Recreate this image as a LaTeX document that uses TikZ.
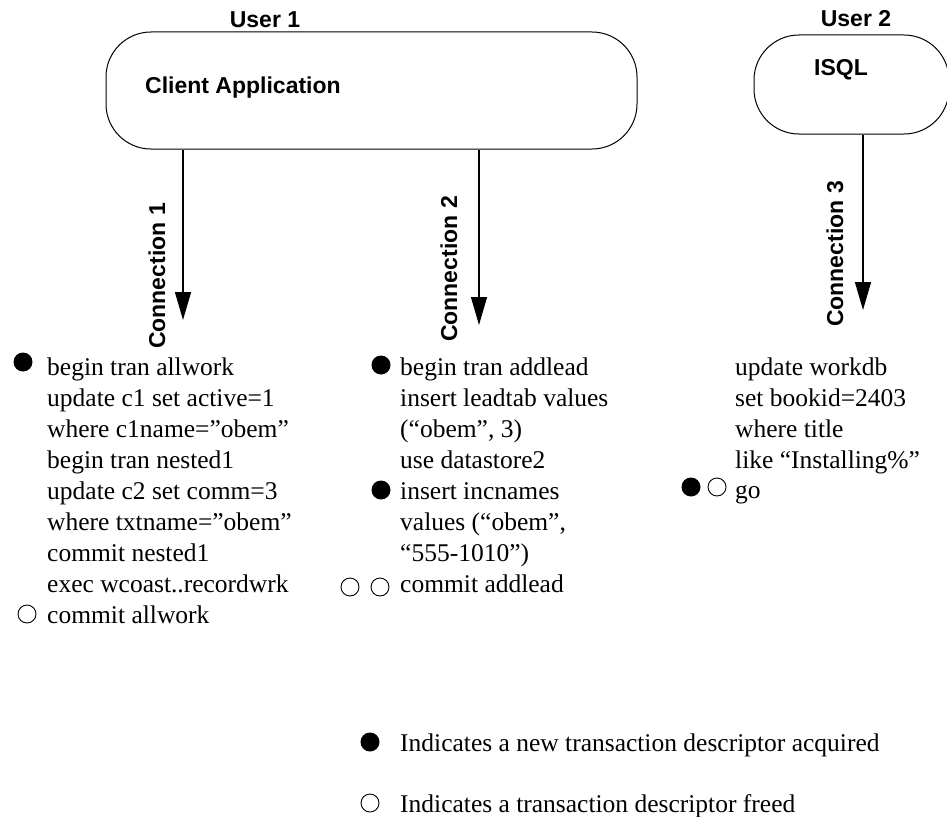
\documentclass[tikz,border=0pt]{standalone}
\usepackage{fontspec}
\setmainfont{Liberation Serif}
\newfontfamily\hv{Liberation Sans}
\usetikzlibrary{arrows.meta}
\begin{document}
\begin{tikzpicture}[x=1pt,y=-1pt,
  lbl/.style={font=\hv\bfseries\fontsize{23}{27}\selectfont, inner sep=0},
  code/.style={font=\fontsize{25.5}{31}\selectfont, anchor=base west, inner sep=0},
  full/.style={circle, fill=black, minimum size=19pt, inner sep=0},
  empty/.style={circle, draw=black, line width=0.9pt, minimum size=18pt, inner sep=0},
  conn/.style={line width=1.3pt, -{Triangle[length=28pt,width=16pt]}},
  appbox/.style={draw, line width=1pt, rounded corners=45pt, inner sep=0}]
\useasboundingbox (0,0) rectangle (947,816);
\clip (0,0) rectangle (947,816);
% boxes
\node[appbox, minimum width=531pt, minimum height=117pt] (client) at (371.5,90.5) {};
\node[appbox, minimum width=195pt, minimum height=99pt] (isql) at (851.5,84.5) {};
\node[lbl, anchor=base] (u1) at (265,28) {User 1};
\node[lbl, anchor=base] (u2) at (856,27) {User 2};
\node[lbl, anchor=base west] (capp) at (145,93) {Client Application};
\node[lbl, anchor=base] (isqlt) at (841,75) {ISQL};
% connectors
\coordinate (e1) at (183,320);
\coordinate (e2) at (479,325);
\coordinate (e3) at (863,310);
\draw[conn] (client.south -| e1) -- (e1);
\draw[conn] (client.south -| e2) -- (e2);
\draw[conn] (isql.south -| e3) -- (e3);
\node[lbl, rotate=90] (c1) at (157,276) {Connection 1};
\node[lbl, rotate=90] (c2) at (449,269) {Connection 2};
\node[lbl, rotate=90] (c3) at (835,254) {Connection 3};
% column 1
\node[code] (a1) at (47,375) {begin tran allwork};
\node[code] (a2) at (47,406) {update c1 set active=1};
\node[code] (a3) at (47,437) {where c1name=”obem”};
\node[code] (a4) at (47,468) {begin tran nested1};
\node[code] (a5) at (47,499) {update c2 set comm=3};
\node[code] (a6) at (47,530) {where txtname=”obem”};
\node[code] (a7) at (47,561) {commit nested1};
\node[code] (a8) at (47,592) {exec wcoast..recordwrk};
\node[code] (a9) at (47,623) {commit allwork};
\node[full] (d1) at (23,362) {};
\node[empty] (o1) at (27,614) {};
% column 2
\node[code] (b1) at (400,375) {begin tran addlead};
\node[code] (b2) at (400,406) {insert leadtab values};
\node[code] (b3) at (400,437) {(“obem”, 3)};
\node[code] (b4) at (400,468) {use datastore2};
\node[code] (b5) at (400,499) {insert incnames};
\node[code] (b6) at (400,530) {values (“obem”,};
\node[code] (b7) at (400,561) {“555-1010”)};
\node[code] (b8) at (400,592) {commit addlead};
\node[full] (d2) at (381,365) {};
\node[full] (d3) at (381,490) {};
\node[empty] (o2) at (350,587) {};
\node[empty] (o3) at (380,587) {};
% column 3
\node[code] (g1) at (735,375) {update workdb};
\node[code] (g2) at (735,406) {set bookid=2403};
\node[code] (g3) at (735,437) {where title};
\node[code] (g4) at (735,468) {like “Installing\%”};
\node[code] (g5) at (735,498) {go};
\node[full] (d4) at (691,487) {};
\node[empty] (o4) at (717,487) {};
% legend
\node[full] (ld) at (370,742) {};
\node[code] (lt1) at (400,751) {Indicates a new transaction descriptor acquired};
\node[empty] (lo) at (370,803) {};
\node[code] (lt2) at (400,812) {Indicates a transaction descriptor freed};
\end{tikzpicture}
\end{document}
